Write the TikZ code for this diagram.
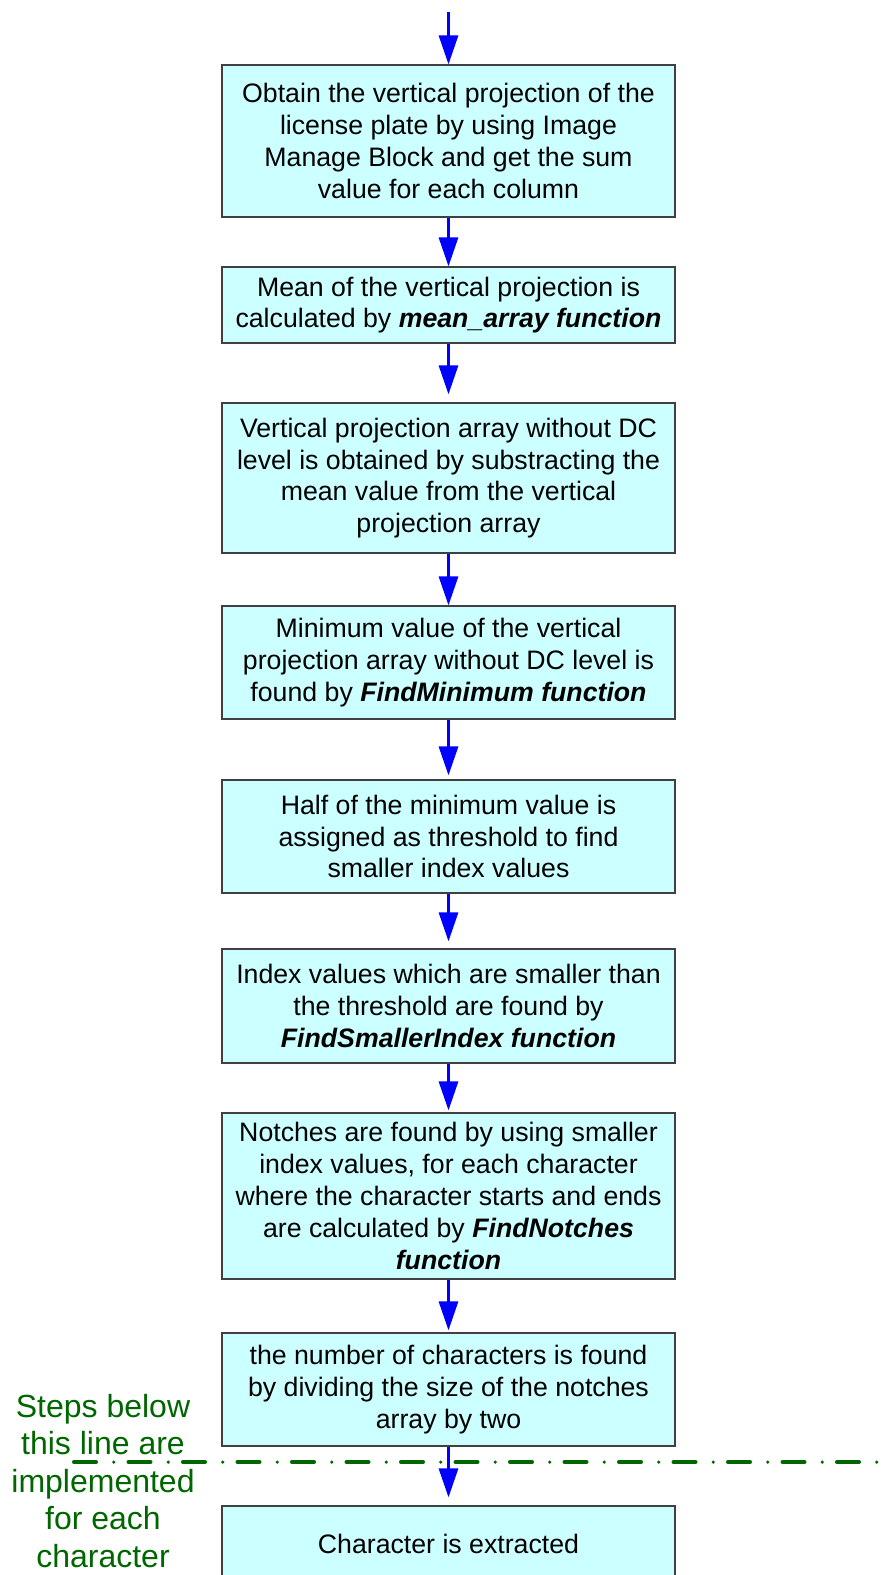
\documentclass[tikz,border=0pt]{standalone}
\usepackage{fontspec}
\setmainfont{Liberation Sans}
\usetikzlibrary{arrows.meta}

\definecolor{boxcyan}{HTML}{CCFFFF}
\definecolor{notegreen}{RGB}{0,102,0}
\newcommand{\fname}[1]{\textbf{\textit{#1}}}

\begin{document}
\begin{tikzpicture}[x=1pt, y=-1pt,
  stepbox/.style={draw=black!75, line width=1.2pt, fill=boxcyan, inner sep=0pt,
    minimum width=453pt, align=center, font=\fontsize{26.7}{31.8}\selectfont},
  flow/.style={draw=blue, line width=3pt, -{Triangle[width=19pt,length=29pt]}},
  note/.style={text=notegreen, align=center, font=\fontsize{32}{37.5}\selectfont}]
\clip (0,0) rectangle (886,1575);
\fill[white] (0,0) rectangle (886,1575);

% boxes of the column
\node[stepbox, minimum height=152pt] (proj) at (448.5,141) {Obtain the vertical projection of the\\license plate by using Image\\Manage Block and get the sum\\value for each column};
\node[stepbox, minimum height=76pt] (mean) at (448.5,305) {Mean of the vertical projection is\\calculated by \fname{mean\_array function}};
\node[stepbox, minimum height=150pt] (nodc) at (448.5,478) {Vertical projection array without DC\\level is obtained by substracting the\\mean value from the vertical\\projection array};
\node[stepbox, minimum height=113pt] (minval) at (448.5,662.5) {Minimum value of the vertical\\projection array without DC level is\\found by \fname{FindMinimum function}};
\node[stepbox, minimum height=113pt] (thresh) at (448.5,836.5) {Half of the minimum value is\\assigned as threshold to find\\smaller index values};
\node[stepbox, minimum height=114pt] (index) at (448.5,1006) {Index values which are smaller than\\the threshold are found by\\\fname{FindSmallerIndex function}};
\node[stepbox, minimum height=166pt] (notch) at (448.5,1196) {Notches are found by using smaller\\index values, for each character\\where the character starts and ends\\are calculated by \fname{FindNotches}\\\fname{function}};
\node[stepbox, minimum height=113pt] (count) at (448.5,1389.5) {the number of characters is found\\by dividing the size of the notches\\array by two};
\node[stepbox, minimum height=76pt] (extract) at (448.5,1544) {Character is extracted};

% per-character separator
\coordinate (sepL) at (73.75,1462);
\coordinate (sepR) at (900,1462);
\draw[notegreen, line width=3.5pt, line cap=round,
  dash pattern=on 22.5pt off 17.5pt on 0pt off 14.5pt] (sepL) -- (sepR);
\node[note] (steps) at (103,1481) {Steps below\\this line are\\implemented\\for each\\character};

% arrows
\coordinate (start) at (448.5,12);
\draw[flow] (start) -- (proj);
\draw[flow] (proj) -- (mean);
\draw[flow, shorten >=8pt] (mean) -- (nodc);
\draw[flow] (nodc) -- (minval);
\draw[flow, shorten >=4pt] (minval) -- (thresh);
\draw[flow, shorten >=7pt] (thresh) -- (index);
\draw[flow, shorten >=2pt] (index) -- (notch);
\draw[flow, shorten >=2pt] (notch) -- (count);
\draw[flow, shorten >=8pt] (count) -- (extract);
\end{tikzpicture}
\end{document}
